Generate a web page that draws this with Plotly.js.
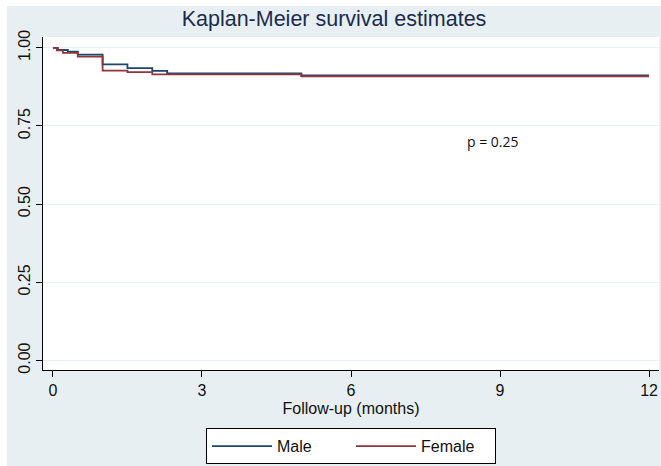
<!DOCTYPE html>
<html>
<head>
<meta charset="utf-8">
<script src="https://cdn.plot.ly/plotly-3.0.1.min.js"></script>
<style>
  html, body { margin: 0; padding: 0; background: #ffffff; overflow: hidden; }
  #chart { position: absolute; left: 7px; top: 6px; width: 654px; height: 460px; }
</style>
</head>
<body>
<div id="chart"></div>
<script>
// Kaplan-Meier step data (months, survival probability)
const maleTime     = [0, 0.1, 0.3, 0.5, 1.0, 1.5, 2.0, 2.3, 5.0, 12];
const maleSurv     = [1.0, 0.993, 0.988, 0.978, 0.947, 0.935, 0.926, 0.918, 0.912, 0.912];
const femaleTime   = [0, 0.08, 0.2, 0.5, 1.0, 1.5, 2.0, 5.0, 12];
const femaleSurv   = [1.0, 0.992, 0.984, 0.972, 0.927, 0.922, 0.915, 0.909, 0.909];
const xTicks       = [0, 3, 6, 9, 12];
const yTicks       = [0, 0.25, 0.5, 0.75, 1.0];
const yTickLabels  = ["0.00", "0.25", "0.50", "0.75", "1.00"];
const seriesNames  = ["Male", "Female"];
const pValueText   = "p = 0.25";

const FONT = "Liberation Sans, Arial, Helvetica, sans-serif";

const traces = [
  { x: maleTime, y: maleSurv, name: seriesNames[0], type: "scatter", mode: "lines",
    line: { shape: "hv", color: "#1a476f", width: 1.8 } },
  { x: femaleTime, y: femaleSurv, name: seriesNames[1], type: "scatter", mode: "lines",
    line: { shape: "hv", color: "#90353b", width: 1.8 } }
];

const layout = {
  width: 654, height: 460,
  paper_bgcolor: "#e7eff2",
  plot_bgcolor: "#ffffff",
  margin: { l: 36, r: 2, t: 31, b: 90 },
  font: { family: FONT, size: 16, color: "#111111" },
  title: { text: "Kaplan-Meier survival estimates", x: 0.5, xanchor: "center",
           y: 0.972, yanchor: "middle", yref: "container",
           font: { family: FONT, size: 21.5, color: "#1c2b4d" } },
  xaxis: {
    range: [-0.2, 12.2], tickvals: xTicks, ticktext: xTicks.map(String),
    ticks: "outside", ticklen: 6, tickcolor: "#000", showline: true, linecolor: "#000", linewidth: 1,
    showgrid: false, zeroline: false, tickfont: { size: 16, color: "#111" },
    title: { text: "Follow-up (months)", standoff: 4, font: { size: 16, color: "#111" } }
  },
  yaxis: {
    range: [-0.0305, 1.0346], tickvals: yTicks, ticktext: yTickLabels, tickangle: -90,
    ticks: "outside", ticklen: 6, tickcolor: "#000", showline: true, linecolor: "#000", linewidth: 1,
    showgrid: true, gridcolor: "#e9f0f2", gridwidth: 1, zeroline: false,
    tickfont: { size: 16, color: "#111" }
  },
  showlegend: true,
  legend: {
    orientation: "h", x: 0.5, xanchor: "center", y: -0.175, yanchor: "top",
    bgcolor: "#ffffff", bordercolor: "#000000", borderwidth: 1,
    font: { size: 16, color: "#111" }, itemwidth: 60, entrywidth: 69, entrywidthmode: "pixels"
  },
  annotations: [
    { x: 8.86, y: 0.699, xref: "x", yref: "y", text: pValueText, showarrow: false,
      font: { family: "Open Sans, sans-serif", size: 14, color: "#111" } }
  ]
};

Plotly.newPlot("chart", traces, layout, { displayModeBar: false, staticPlot: true });
</script>
</body>
</html>
